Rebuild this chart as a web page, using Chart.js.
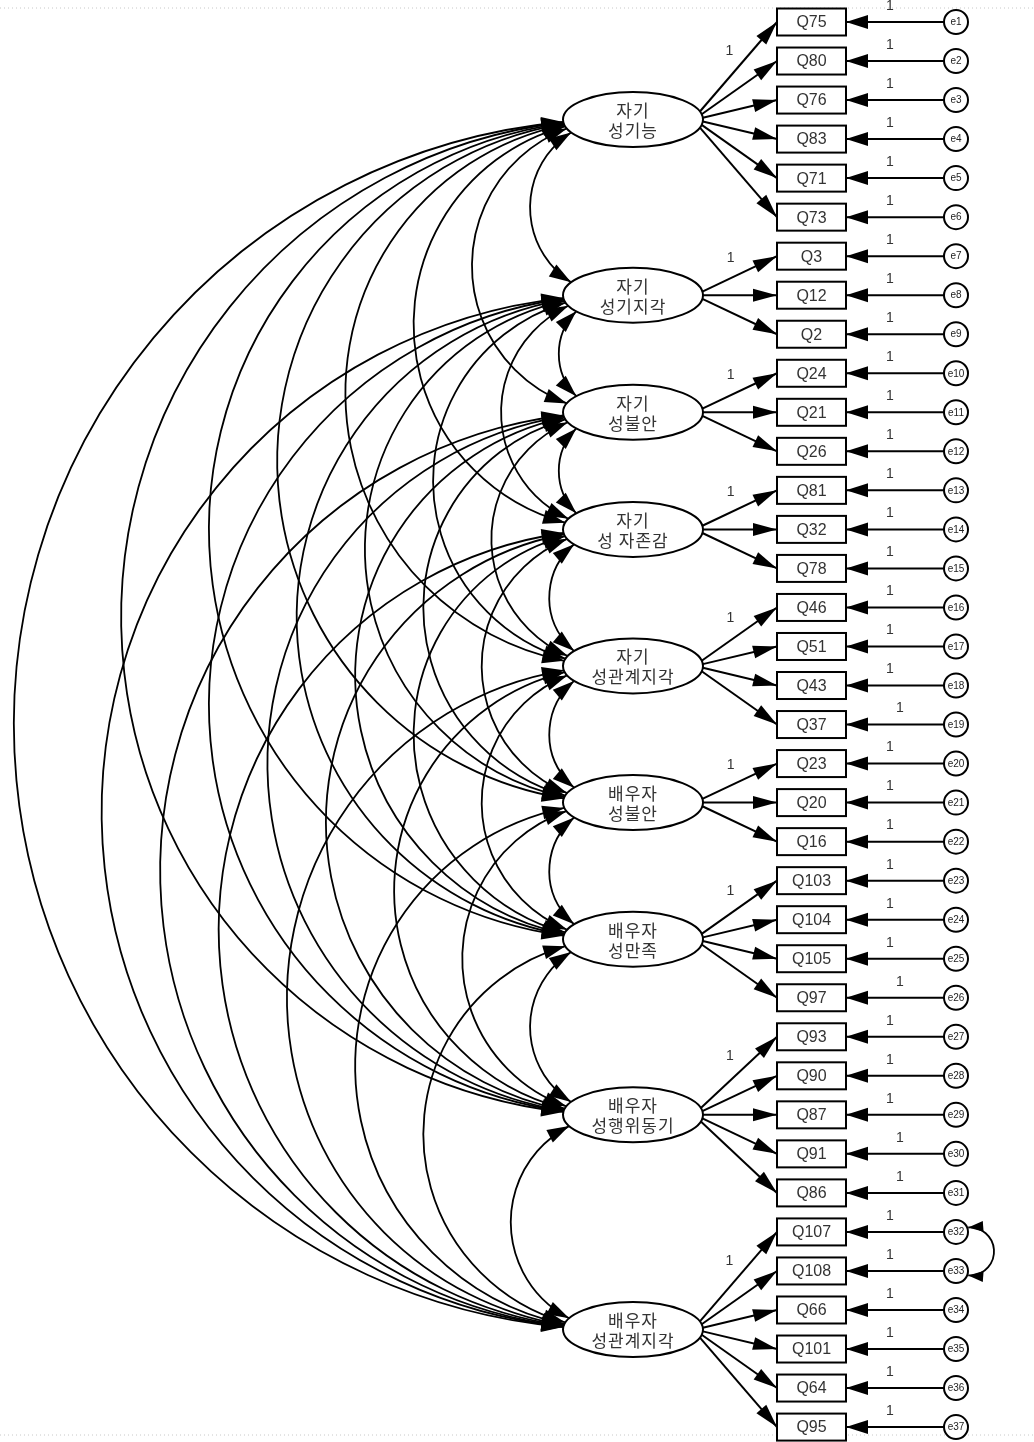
<!DOCTYPE html>
<html>
<head>
<meta charset="utf-8">
<script src="https://cdn.jsdelivr.net/npm/chart.js@4.4.1/dist/chart.umd.min.js"></script>
<style>
  html, body { margin: 0; padding: 0; background: #fff; }
  canvas { display: block; }
</style>
</head>
<body>
<canvas id="sem" width="1034" height="1442"></canvas>
<script>
// ════════════════════════════════════════════════════
//  MODEL DATA
// ════════════════════════════════════════════════════

// latent factors, two-line labels
const factorTop    = ['자기', '자기', '자기', '자기', '자기', '배우자', '배우자', '배우자', '배우자'];
const factorBottom = ['성기능', '성기지각', '성불안', '성 자존감', '성관계지각', '성불안', '성만족', '성행위동기', '성관계지각'];

// observed indicators per factor (first loading fixed)
const indicators = [
  ['Q75', 'Q80', 'Q76', 'Q83', 'Q71', 'Q73'],
  ['Q3', 'Q12', 'Q2'],
  ['Q24', 'Q21', 'Q26'],
  ['Q81', 'Q32', 'Q78'],
  ['Q46', 'Q51', 'Q43', 'Q37'],
  ['Q23', 'Q20', 'Q16'],
  ['Q103', 'Q104', 'Q105', 'Q97'],
  ['Q93', 'Q90', 'Q87', 'Q91', 'Q86'],
  ['Q107', 'Q108', 'Q66', 'Q101', 'Q64', 'Q95'],
];

// residual terms, one per indicator in order
const errors = ['e1', 'e2', 'e3', 'e4', 'e5', 'e6', 'e7', 'e8', 'e9', 'e10',
  'e11', 'e12', 'e13', 'e14', 'e15', 'e16', 'e17', 'e18', 'e19', 'e20',
  'e21', 'e22', 'e23', 'e24', 'e25', 'e26', 'e27', 'e28', 'e29', 'e30',
  'e31', 'e32', 'e33', 'e34', 'e35', 'e36', 'e37'];

const fixedLoading = '1';   // first loading of each factor
const fixedError   = '1';   // every residual path
const errorCovs    = [['e32', 'e33']];

// ════════════════════════════════════════════════════
//  LAYOUT / STYLE
// ════════════════════════════════════════════════════

const FACTOR_X = 633, ITEM_X = 811.5, ERR_X = 956;
const RX = 70, RY = 27.5;          // ellipse radii
const RW = 69, RH = 27;            // indicator box
const ER = 12;                     // residual circle
const ARC_OFF = 14;                // covariance circle centre shift
const ONE_SHIFT = ['e19', 'e26', 'e30', 'e31'];
const FONT = "'Liberation Sans', Arial, 'Noto Sans CJK KR', sans-serif";
const KFONT = "'Noto Sans CJK KR', 'Liberation Sans', sans-serif";

// node coordinates: x in layout units, y = indicator row
const itemPts = [];
const factorPts = [];
let row = 0;
indicators.forEach(list => {
  const first = row;
  list.forEach(name => { itemPts.push({ x: ITEM_X, y: row, name }); row++; });
  factorPts.push({ x: FACTOR_X, y: (first + row - 1) / 2 });
});
const errPts = errors.map((e, i) => ({ x: ERR_X, y: i, name: e }));

// all factors covary
const factorCovs = [];
for (let a = 0; a < factorTop.length; a++)
  for (let b = a + 1; b < factorTop.length; b++) factorCovs.push([a, b]);

// ════════════════════════════════════════════════════
//  DRAW HELPERS
// ════════════════════════════════════════════════════

function head(ctx, tx, ty, dx, dy, len = 22, hw = 6.5) {
  const n = Math.hypot(dx, dy); dx /= n; dy /= n;
  const bx = tx - dx * len, by = ty - dy * len;
  ctx.beginPath();
  ctx.moveTo(tx, ty);
  ctx.lineTo(bx - dy * hw, by + dx * hw);
  ctx.lineTo(bx + dy * hw, by - dx * hw);
  ctx.closePath();
  ctx.fill();
}

function inEllipse(px, py, e) {
  const u = (px - e.x) / RX, v = (py - e.y) / RY;
  return u * u + v * v < 1;
}

// walk along the circle from angle a0 in direction sgn until leaving node
function exitAngle(xc, yc, R, a0, sgn, inside) {
  let t = 0;
  while (t < Math.PI && inside(xc + R * Math.cos(a0 + sgn * t), yc + R * Math.sin(a0 + sgn * t))) t += 0.0005;
  return a0 + sgn * t;
}

function drawCovArc(ctx, A, B, insideA, insideB, side, len, hw) {
  // circle through both node centres, bulging to `side` (-1 left, +1 right)
  const xc = A.x + side * ARC_OFF, yc = (A.y + B.y) / 2;
  const R = Math.hypot(A.x - xc, A.y - yc);
  const aA = Math.atan2(A.y - yc, A.x - xc);
  const aB = Math.atan2(B.y - yc, B.x - xc);
  const dir = side < 0 ? -1 : 1;
  const eA = exitAngle(xc, yc, R, aA, dir, insideA);
  const eB = exitAngle(xc, yc, R, aB, -dir, insideB);
  ctx.beginPath();
  ctx.arc(xc, yc, R, eA, eB, side < 0);
  ctx.stroke();
  return [
    { x: xc + R * Math.cos(eA), y: yc + R * Math.sin(eA), dx: dir * Math.sin(eA), dy: -dir * Math.cos(eA) },
    { x: xc + R * Math.cos(eB), y: yc + R * Math.sin(eB), dx: -dir * Math.sin(eB), dy: dir * Math.cos(eB) },
  ].map(h => ({ ...h, len, hw }));
}

// ════════════════════════════════════════════════════
//  PLUGIN
// ════════════════════════════════════════════════════

const semPlugin = {
  id: 'sem',
  beforeDatasetsDraw(chart) {
    const ctx = chart.ctx;
    const E = chart.getDatasetMeta(0).data;
    const I = chart.getDatasetMeta(1).data;
    const F = chart.getDatasetMeta(2).data;
    ctx.save();

    // dotted frame
    ctx.strokeStyle = '#c8c8c8';
    ctx.lineWidth = 1;
    ctx.setLineDash([1, 3]);
    [8, 1435].forEach(y => { ctx.beginPath(); ctx.moveTo(0, y); ctx.lineTo(1034, y); ctx.stroke(); });
    ctx.setLineDash([]);

    // factor covariances
    ctx.strokeStyle = '#000';
    ctx.fillStyle = '#000';
    ctx.lineWidth = 1.8;
    const heads = [];
    factorCovs.forEach(([a, b]) => {
      const A = F[a], B = F[b];
      heads.push(...drawCovArc(ctx, A, B,
        (x, y) => inEllipse(x, y, A), (x, y) => inEllipse(x, y, B), -1, 22, 7));
    });

    // factor ellipses
    ctx.lineWidth = 2;
    F.forEach(p => {
      ctx.beginPath();
      ctx.ellipse(p.x, p.y, RX, RY, 0, 0, Math.PI * 2);
      ctx.fillStyle = '#fff';
      ctx.fill();
      ctx.stroke();
    });
    ctx.fillStyle = '#000';
    heads.forEach(h => head(ctx, h.x, h.y, h.dx, h.dy, h.len, h.hw));

    // loadings
    ctx.lineWidth = 2;
    let k = 0;
    indicators.forEach((list, f) => {
      const c = F[f];
      list.forEach((name, j) => {
        const t = I[k++];
        const tx = t.x - RW / 2, ty = t.y;
        const th = 0.5 * Math.atan2(ty - c.y, tx - c.x);
        const sx = c.x + RX * Math.cos(th), sy = c.y + RY * Math.sin(th);
        ctx.beginPath(); ctx.moveTo(sx, sy); ctx.lineTo(tx, ty); ctx.stroke();
        head(ctx, tx, ty, tx - sx, ty - sy, 24, 6.5);
        if (j === 0) {
          ctx.font = '14px ' + FONT;
          ctx.fillStyle = '#333';
          ctx.textAlign = 'center';
          ctx.textBaseline = 'middle';
          ctx.fillText(fixedLoading, (sx + tx) / 2 - 9, (sy + ty) / 2 - 16);
          ctx.fillStyle = '#000';
        }
      });
    });

    // indicator boxes
    I.forEach((p, i) => {
      ctx.fillStyle = '#fff';
      ctx.fillRect(p.x - RW / 2, p.y - RH / 2, RW, RH);
      ctx.strokeRect(p.x - RW / 2, p.y - RH / 2, RW, RH);
      ctx.fillStyle = '#333';
      ctx.font = '16px ' + FONT;
      ctx.textAlign = 'center';
      ctx.textBaseline = 'middle';
      ctx.fillText(itemPts[i].name, p.x, p.y + 1);
    });

    // residual paths
    ctx.fillStyle = '#000';
    E.forEach((p, i) => {
      const tx = I[i].x + RW / 2;
      ctx.beginPath(); ctx.moveTo(p.x - ER, p.y); ctx.lineTo(tx, p.y); ctx.stroke();
      head(ctx, tx, p.y, -1, 0, 22, 7);
    });

    // residual covariance
    ctx.lineWidth = 1.8;
    errorCovs.forEach(([a, b]) => {
      const A = E[errors.indexOf(a)], B = E[errors.indexOf(b)];
      const hs = drawCovArc(ctx, A, B,
        (x, y) => Math.hypot(x - A.x, y - A.y) < ER + 1,
        (x, y) => Math.hypot(x - B.x, y - B.y) < ER + 1, 1, 15, 5.5);
      hs.forEach(h => head(ctx, h.x, h.y, h.dx, h.dy, h.len, h.hw));
    });
    ctx.restore();
  },
  afterDatasetsDraw(chart) {
    const ctx = chart.ctx;
    const E = chart.getDatasetMeta(0).data;
    const F = chart.getDatasetMeta(2).data;
    ctx.save();
    ctx.textAlign = 'center';
    ctx.textBaseline = 'middle';

    // residual labels + fixed paths
    E.forEach((p, i) => {
      ctx.fillStyle = '#222';
      ctx.font = '10px ' + FONT;
      ctx.fillText(errors[i], p.x, p.y + 0.5);
      ctx.fillStyle = '#333';
      ctx.font = '14px ' + FONT;
      const shift = ONE_SHIFT.includes(errors[i]) ? 10 : 0;
      ctx.fillText(fixedError, 890 + shift, p.y - 16);
    });

    // factor labels
    ctx.fillStyle = '#333';
    ctx.font = '17px ' + KFONT;
    if ('letterSpacing' in ctx) ctx.letterSpacing = '1px';
    F.forEach((p, f) => {
      ctx.fillText(factorTop[f], p.x, p.y - 9);
      ctx.fillText(factorBottom[f], p.x, p.y + 11);
    });
    ctx.restore();
  }
};

// ════════════════════════════════════════════════════
//  CHART
// ════════════════════════════════════════════════════

const ROW_PX = 39.03;
const yMin = -22 / ROW_PX;
const yMax = yMin + 1442 / ROW_PX;

new Chart(document.getElementById('sem'), {
  type: 'scatter',
  data: {
    datasets: [
      { label: 'errors', data: errPts, pointStyle: 'circle', pointRadius: 12, pointHoverRadius: 12,
        borderWidth: 2, borderColor: '#000', backgroundColor: '#fff' },
      { label: 'items', data: itemPts, pointRadius: 0, pointHoverRadius: 0 },
      { label: 'factors', data: factorPts, pointRadius: 0, pointHoverRadius: 0 },
    ]
  },
  options: {
    responsive: false,
    animation: false,
    devicePixelRatio: 1,
    layout: { padding: 0, autoPadding: false },
    events: [],
    plugins: { legend: { display: false }, tooltip: { enabled: false } },
    scales: {
      x: { type: 'linear', min: 0, max: 1034, display: false },
      y: { type: 'linear', min: yMin, max: yMax, reverse: true, display: false },
    }
  },
  plugins: [semPlugin]
});
</script>
</body>
</html>
